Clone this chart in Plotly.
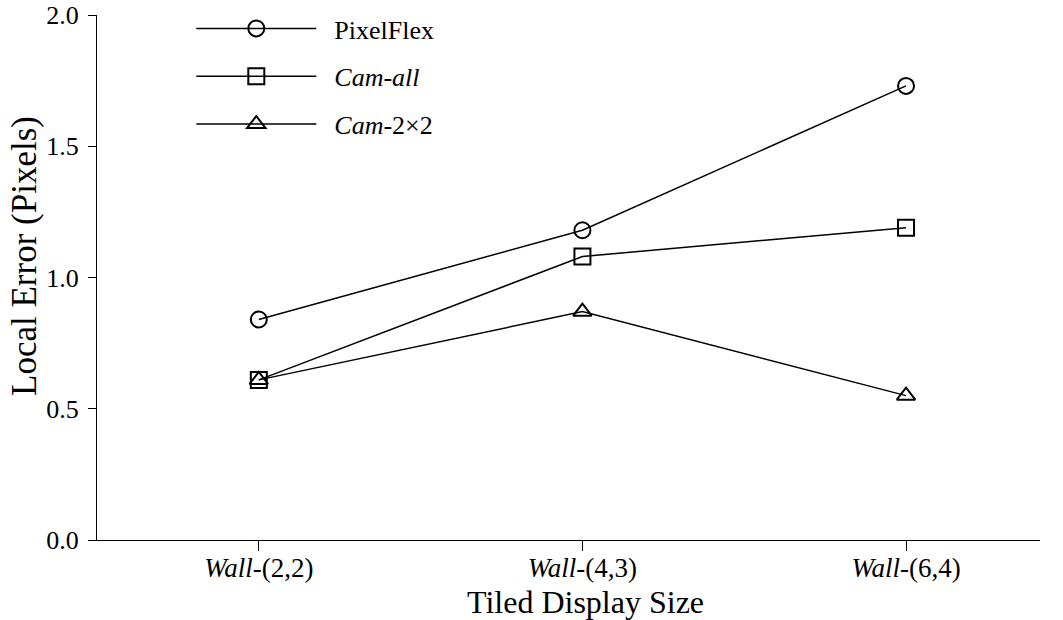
import plotly.graph_objects as go

categories = ["Wall-(2,2)", "Wall-(4,3)", "Wall-(6,4)"]
tick_labels = ["<i>Wall</i>-(2,2)", "<i>Wall</i>-(4,3)", "<i>Wall</i>-(6,4)"]
pixelflex = [0.84, 1.18, 1.73]
cam_all = [0.61, 1.08, 1.19]
cam_2x2 = [0.61, 0.87, 0.55]
series_names = ["PixelFlex", "<i>Cam-all</i>", "<i>Cam</i>-2×2"]
symbols = ["circle-open", "square-open", "triangle-up-open"]
x_title = "Tiled Display Size"
y_title = "Local Error (Pixels)"

FONT = "Liberation Serif"
PAD = "\u00a0\u00a0"
fig = go.Figure()
for i, (name, vals, sym) in enumerate(zip(series_names, [pixelflex, cam_all, cam_2x2], symbols)):
    fig.add_trace(go.Scatter(
        x=categories, y=vals, name=PAD + name, mode="lines+markers",
        line=dict(color="black", width=1.5),
        marker=dict(symbol=sym, size=16, color="black", line=dict(width=2, color="black")),
        legendgroup=f"g{i}",
    ))

fig.add_annotation(text=x_title, xref="paper", yref="paper", x=0.518, y=-0.118,
                   xanchor="center", yanchor="middle", showarrow=False,
                   font=dict(family=FONT, size=32, color="black"))
fig.add_annotation(text=y_title, xref="paper", yref="paper", x=-0.0764, y=0.541,
                   xanchor="center", yanchor="middle", showarrow=False, textangle=-90,
                   font=dict(family=FONT, size=35, color="black"))

fig.update_layout(
    width=1063, height=620,
    margin=dict(l=97, r=23, t=15, b=80, autoexpand=False),
    plot_bgcolor="white", paper_bgcolor="white",
    font=dict(family=FONT, size=22, color="black"),
    showlegend=True,
    legend=dict(x=0.1, y=1.019, xanchor="left", yanchor="top",
                itemwidth=120, tracegroupgap=11,
                font=dict(family=FONT, size=26),
                bgcolor="rgba(0,0,0,0)", itemclick=False),
    xaxis=dict(
        type="category", categoryorder="array", categoryarray=categories,
        tickmode="array", tickvals=categories, ticktext=tick_labels,
        range=[-0.5, 2.414], automargin=False,
        showline=True, linecolor="black", linewidth=1.2,
        ticks="outside", ticklen=10, tickcolor="black", tickwidth=1,
        ticklabelstandoff=-7,
        showgrid=False, zeroline=False,
        tickfont=dict(family=FONT, size=27),
    ),
    yaxis=dict(
        range=[0, 2.0], tickvals=[0, 0.5, 1.0, 1.5, 2.0],
        ticktext=["0.0", "0.5", "1.0", "1.5", "2.0"], automargin=False,
        showline=True, linecolor="black", linewidth=1.2,
        ticks="outside", ticklen=8, tickcolor="black", tickwidth=1,
        ticklabelstandoff=4,
        showgrid=False, zeroline=False,
        tickfont=dict(family=FONT, size=26),
    ),
)
fig.write_html("out.html")
